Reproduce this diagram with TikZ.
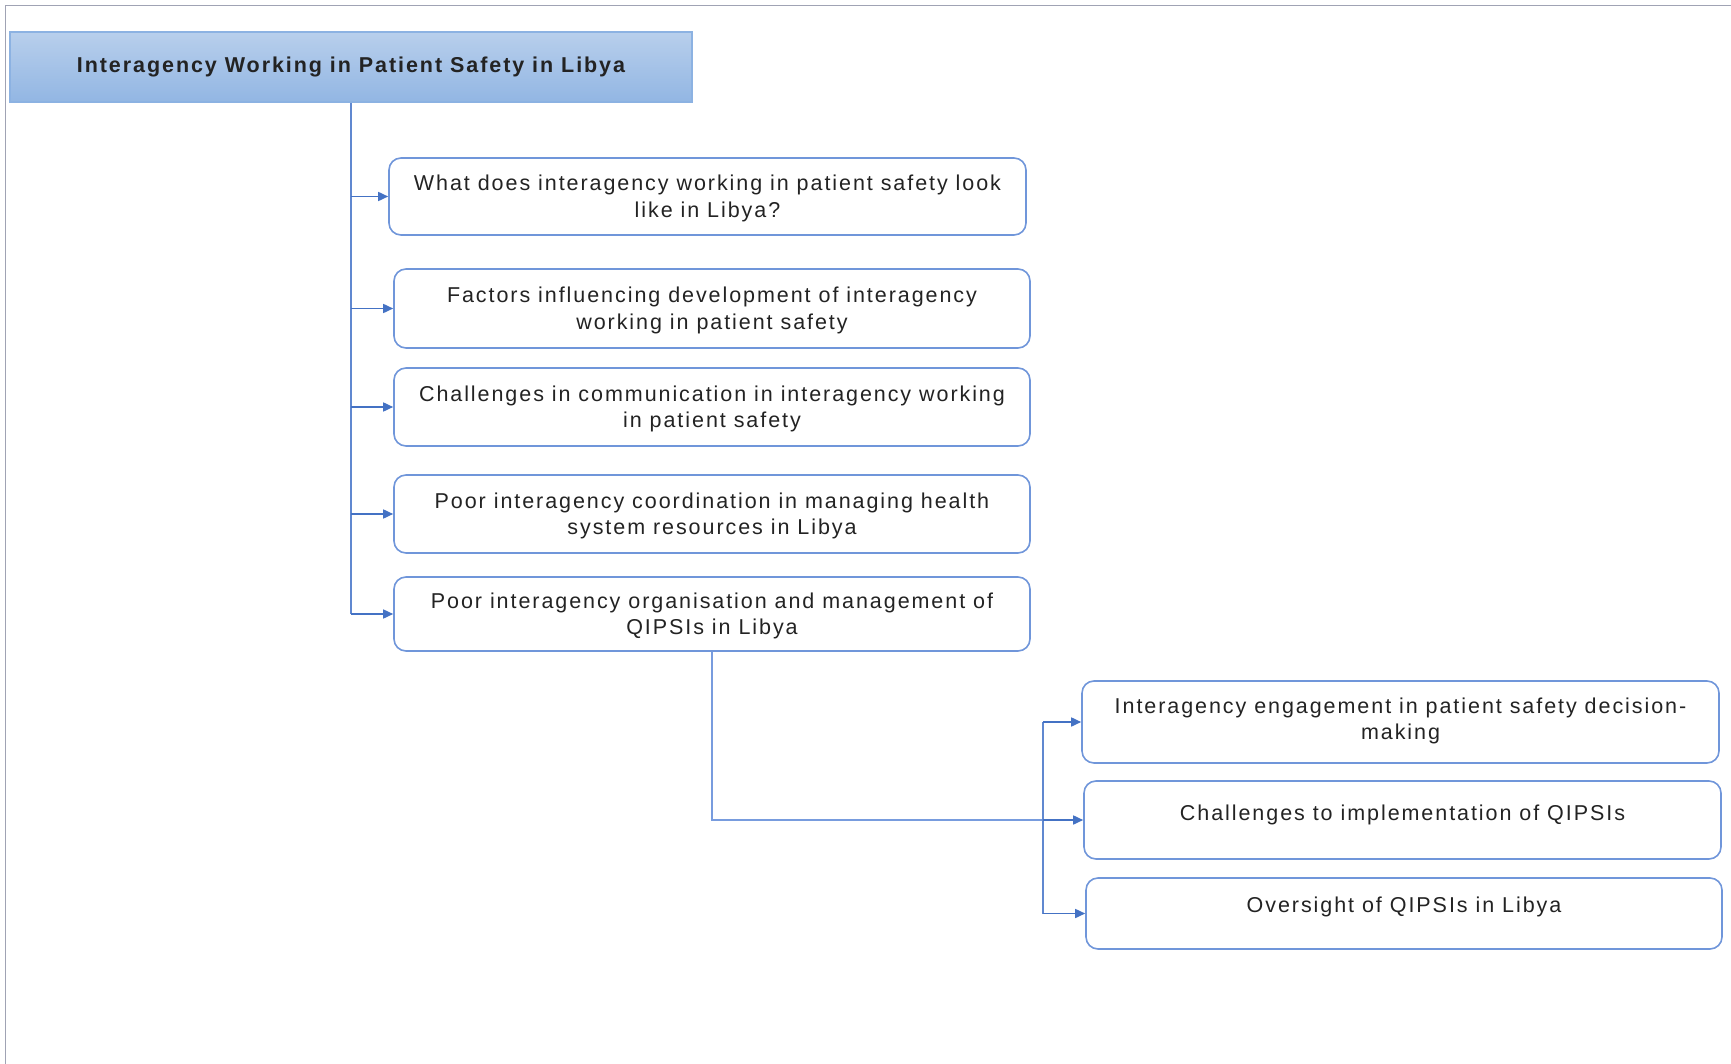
\documentclass[tikz,border=0pt]{standalone}
\usepackage{fontspec}
\setmainfont{Liberation Sans}[LetterSpace=9]
\usetikzlibrary{arrows.meta}
\definecolor{framecol}{RGB}{160,163,180}
\definecolor{boxcol}{RGB}{112,150,218}
\definecolor{linkcol}{RGB}{68,114,196}
\definecolor{trunkcol}{RGB}{96,136,208}
\definecolor{thincol}{RGB}{120,156,222}
\definecolor{headtop}{RGB}{184,207,236}
\definecolor{headbot}{RGB}{146,182,227}
\definecolor{headline}{RGB}{140,178,226}
\definecolor{textcol}{RGB}{35,35,35}
\begin{document}
\begin{tikzpicture}[x=1pt,y=-1pt,
  header/.style={draw=headline, line width=1.5pt, top color=headtop, bottom color=headbot,
    minimum width=682pt, minimum height=70pt, inner sep=0pt,
    font=\fontsize{21.5}{26.5}\selectfont\bfseries, text=textcol},
  box/.style={draw=boxcol, line width=1.6pt, rounded corners=12pt, fill=white, inner sep=0pt},
  txt/.style={font=\fontsize{21.5}{26.5}\selectfont, text=textcol, align=center, inner sep=0pt},
  link/.style={draw=linkcol, line width=1.6pt, -{Triangle[length=10pt,width=9pt]}},
  trunk/.style={draw=trunkcol, line width=1.6pt},
  thinlink/.style={draw=thincol, line width=1.2pt}]
\useasboundingbox (0,0) rectangle (1731,1064);
% page frame
\draw[framecol, line width=1.5pt] (5.5,1064) -- (5.5,5.5) -- (1731,5.5);

% title
\node[header] (head) at (351,67) {Interagency Working in Patient Safety in Libya};

% first level boxes
\node[box, minimum width=637pt, minimum height=77pt] (b1) at (707.5,196.5) {};
\node[box, minimum width=636pt, minimum height=79pt] (b2) at (712,308.5) {};
\node[box, minimum width=636pt, minimum height=78pt] (b3) at (712,407) {};
\node[box, minimum width=636pt, minimum height=78pt] (b4) at (712,514) {};
\node[box, minimum width=636pt, minimum height=74pt] (b5) at (712,614) {};
\node[txt] (t1) at ([yshift=-2pt]b1.center) {What does interagency working in patient safety look\\like in Libya?};
\node[txt] (t2) at ([yshift=-2pt]b2.center) {Factors influencing development of interagency\\working in patient safety};
\node[txt] (t3) at ([yshift=-2pt]b3.center) {Challenges in communication in interagency working\\in patient safety};
\node[txt] (t4) at ([yshift=-2pt]b4.center) {Poor interagency coordination in managing health\\system resources in Libya};
\node[txt] (t5) at ([yshift=-2pt]b5.center) {Poor interagency organisation and management of\\QIPSIs in Libya};

% second level boxes
\node[box, minimum width=637pt, minimum height=82pt] (b6) at (1400.5,722) {};
\node[box, minimum width=637pt, minimum height=78pt] (b7) at (1402.5,820) {};
\node[box, minimum width=636pt, minimum height=71pt] (b8) at (1404,913.5) {};
\node[txt] (t6) at (1400.5,721) {Interagency engagement in patient safety decision-\\making};
\node[txt] (t7) at (1402.5,815) {Challenges to implementation of QIPSIs};
\node[txt] (t8) at (1404,907) {Oversight of QIPSIs in Libya};

% trunk from the title
\coordinate (j1) at (head.south |- b1.west);
\coordinate (j2) at (head.south |- b2.west);
\coordinate (j3) at (head.south |- b3.west);
\coordinate (j4) at (head.south |- b4.west);
\coordinate (j5) at (head.south |- b5.west);
\draw[trunk] (head.south) -- (j5);
\draw[link] (j1) -- (b1.west);
\draw[link] (j2) -- (b2.west);
\draw[link] (j3) -- (b3.west);
\draw[link] (j4) -- (b4.west);
\draw[link] (j5) -- (b5.west);

% branch to second level
\coordinate (k) at (1043,0);
\draw[thinlink] (b5.south) |- (k |- b7.west);
\draw[trunk] (k |- b6.west) -- (k |- b8.west);
\draw[link] (k |- b6.west) -- (b6.west);
\draw[link] (k |- b7.west) -- (b7.west);
\draw[link] (k |- b8.west) -- (b8.west);
\end{tikzpicture}
\end{document}
